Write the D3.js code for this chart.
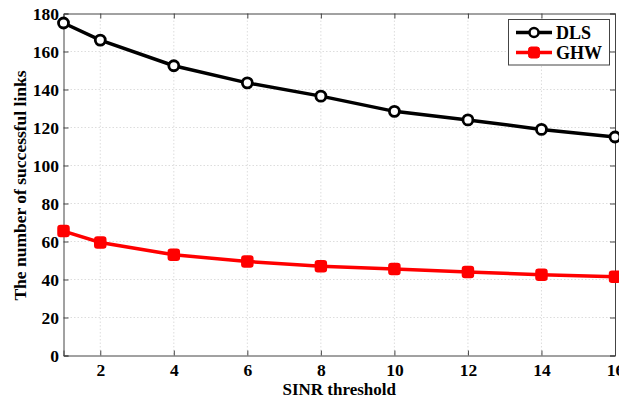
<!DOCTYPE html>
<html><head><meta charset="utf-8">
<script src="https://cdn.jsdelivr.net/npm/d3@7"></script>
<style>body{margin:0;background:#fff}svg{display:block}</style>
</head><body>
<svg id="c" width="619" height="400"></svg>
<script>
const xValues = [1, 2, 4, 6, 8, 10, 12, 14, 16];
const dlsValues = [175, 166, 152.5, 143.5, 136.5, 128.5, 124, 119, 115];
const ghwValues = [65.5, 59.5, 53, 49.5, 47, 45.5, 44, 42.5, 41.5];
const xTicks = [2, 4, 6, 8, 10, 12, 14, 16];
const yTicks = [0, 20, 40, 60, 80, 100, 120, 140, 160, 180];
const seriesNames = ["DLS", "GHW"];

const svg = d3.select("#c");
const L = 63.5, R = 615, T = 13.5, B = 355.5;
const x = d3.scaleLinear().domain([1, 16]).range([L, R]);
const y = d3.scaleLinear().domain([0, 180]).range([B, T]);
const font = "'Liberation Serif','Times New Roman',serif";

// grid
const g = svg.append("g");
g.selectAll(".gx").data(xTicks.filter(d => d < 16)).join("line")
  .attr("x1", d => x(d)).attr("x2", d => x(d)).attr("y1", T).attr("y2", B)
  .attr("stroke", "#d4d4d4").attr("stroke-width", 0.8).attr("stroke-dasharray", "1.5,2");
g.selectAll(".gy").data(yTicks.filter(d => d > 0 && d < 180)).join("line")
  .attr("y1", d => y(d)).attr("y2", d => y(d)).attr("x1", L).attr("x2", R)
  .attr("stroke", "#d4d4d4").attr("stroke-width", 0.8).attr("stroke-dasharray", "1.5,2");

// axes
const ax = svg.append("g").attr("transform", `translate(0,${B})`)
  .call(d3.axisBottom(x).tickValues(xTicks).tickSize(-5).tickPadding(8));
const ay = svg.append("g").attr("transform", `translate(${L},0)`)
  .call(d3.axisLeft(y).tickValues(yTicks).tickSize(-5).tickPadding(4.5));
const axTop = svg.append("g").attr("transform", `translate(0,${T})`)
  .call(d3.axisTop(x).tickValues(xTicks).tickSize(-5).tickFormat(""));
const ayR = svg.append("g").attr("transform", `translate(${R},0)`)
  .call(d3.axisRight(y).tickValues(yTicks).tickSize(-5).tickFormat(""));
[ax, ay, axTop, ayR].forEach(a => {
  a.selectAll("path").attr("stroke", "#444").attr("stroke-width", 1);
  a.selectAll("line").attr("stroke", "#444");
  a.selectAll("text").attr("font-family", font).attr("font-weight", "bold")
    .attr("font-size", 17.5).attr("fill", "#000");
});

// lines
const line = d3.line().x((d, i) => x(xValues[i])).y(d => y(d));
svg.append("path").datum(dlsValues).attr("d", line).attr("fill", "none")
  .attr("stroke", "#000").attr("stroke-width", 3.5);
svg.append("path").datum(ghwValues).attr("d", line).attr("fill", "none")
  .attr("stroke", "#ff0000").attr("stroke-width", 3.5);
svg.selectAll(".dm").data(dlsValues).join("circle")
  .attr("cx", (d, i) => x(xValues[i])).attr("cy", d => y(d)).attr("r", 5)
  .attr("fill", "#fff").attr("stroke", "#000").attr("stroke-width", 2.8);
svg.selectAll(".gm").data(ghwValues).join("rect")
  .attr("x", (d, i) => x(xValues[i]) - 5.5).attr("y", d => y(d) - 5.5)
  .attr("width", 11).attr("height", 11).attr("rx", 2.5)
  .attr("fill", "#ff0000").attr("stroke", "#ff0000").attr("stroke-width", 1.5);

// legend
const lg = svg.append("g");
lg.append("rect").attr("x", 508.5).attr("y", 19.5).attr("width", 101).attr("height", 45.5)
  .attr("fill", "#fff").attr("stroke", "#444").attr("stroke-width", 1);
const ly = [32.5, 52.5];
const lcol = ["#000", "#ff0000"];
seriesNames.forEach((n, i) => {
  lg.append("line").attr("x1", 516).attr("x2", 552).attr("y1", ly[i]).attr("y2", ly[i])
    .attr("stroke", lcol[i]).attr("stroke-width", 3.5);
  if (i === 0) {
    lg.append("circle").attr("cx", 534).attr("cy", ly[i]).attr("r", 4.5)
      .attr("fill", "#fff").attr("stroke", "#000").attr("stroke-width", 2.5);
  } else {
    lg.append("rect").attr("x", 528.5).attr("y", ly[i] - 5.5).attr("width", 11).attr("height", 11)
      .attr("rx", 2.5).attr("fill", "#ff0000").attr("stroke", "#ff0000");
  }
  lg.append("text").attr("x", 556).attr("y", ly[i] + 6).text(n)
    .attr("font-family", font).attr("font-weight", "bold").attr("font-size", 18);
});

// labels
svg.append("text").attr("x", (L + R) / 2).attr("y", 395).attr("text-anchor", "middle")
  .attr("font-family", font).attr("font-weight", "bold").attr("font-size", 17).text("SINR threshold");
svg.append("text").attr("transform", `translate(26,${(T + B) / 2 + 1}) rotate(-90)`)
  .attr("text-anchor", "middle").attr("font-family", font).attr("font-weight", "bold")
  .attr("font-size", 17.5).text("The number of successful links");
</script>
</body></html>
